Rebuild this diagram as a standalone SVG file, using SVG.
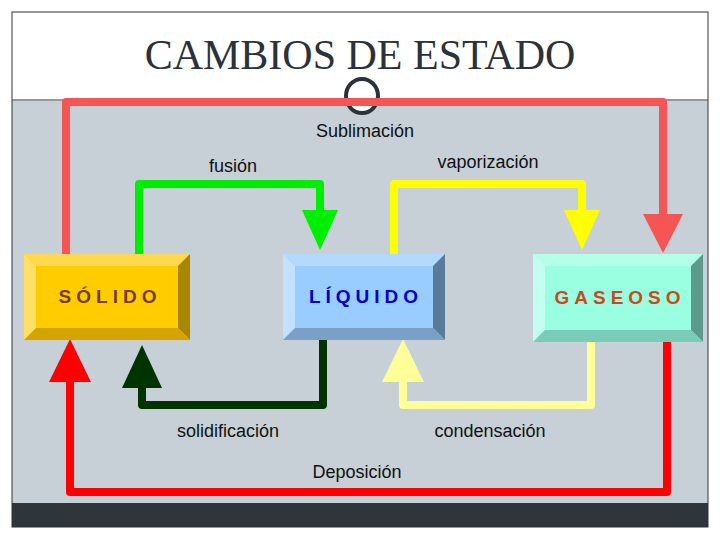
<svg xmlns="http://www.w3.org/2000/svg" width="720" height="540" viewBox="0 0 720 540">
<style>
.lbl{font-family:"Liberation Sans",Arial,sans-serif;font-size:18px;fill:#111;text-anchor:middle}
.node{font-family:"Liberation Sans",Arial,sans-serif;font-size:19px;font-weight:bold;letter-spacing:5px;text-anchor:middle}
.c{fill:none;stroke-width:8;stroke-linejoin:round}
</style>
<rect width="720" height="540" fill="#fff"/>
<rect x="12" y="101" width="696" height="402" fill="#c6d0d6"/>
<rect x="12" y="503" width="696" height="24" fill="#2e363c"/>
<rect x="12" y="12" width="696" height="515" fill="none" stroke="#333" stroke-width="1"/>
<line x1="12" y1="100" x2="708" y2="100" stroke="#333" stroke-width="1"/>
<text x="360" y="69" text-anchor="middle" font-family="'Liberation Serif',serif" font-size="42" fill="#2b3238">CAMBIOS DE ESTADO</text>
<ellipse cx="362" cy="96" rx="16" ry="17" fill="#fff" stroke="#2b3238" stroke-width="4"/>
<g id="connectors">
<path class="c" stroke="#f55555" d="M66 254V102H663V220"/>
<polygon fill="#f55555" points="643,214 683,214 663,253"/>
<path class="c" stroke="#00ee00" d="M139 254V184H320V215"/>
<polygon fill="#00ee00" points="302,210 338,210 320,250"/>
<path class="c" stroke="#ffff00" d="M394 254V184H582V215"/>
<polygon fill="#ffff00" points="564,210 600,210 582,250"/>
<path class="c" stroke="#003300" d="M323 340V405H142V380"/>
<polygon fill="#003300" points="122,388 162,388 142,345"/>
<path class="c" stroke="#ffff99" d="M591 342V405H403V378"/>
<polygon fill="#ffff99" points="382,382 424,382 403,339"/>
<path class="c" stroke="#ff0000" d="M667 342V492H70V376"/>
<polygon fill="#ff0000" points="49,382 91,382 70,339"/>
</g>
<g id="solido">
<rect x="24" y="254" width="166" height="86" fill="#ffcc00"/>
<polygon points="24,254 190,254 178,266 36,266" fill="#ffd94d"/>
<polygon points="24,254 36,266 36,328 24,340" fill="#ffe066"/>
<polygon points="190,254 190,340 178,328 178,266" fill="#a88600"/>
<polygon points="24,340 36,328 178,328 190,340" fill="#d4a500"/>
<text class="node" x="110" y="303" fill="#7a3a10">SÓLIDO</text>
</g>
<g id="liquido">
<rect x="283" y="254" width="162" height="86" fill="#99ccff"/>
<polygon points="283,254 445,254 433,266 295,266" fill="#b3d9ff"/>
<polygon points="283,254 295,266 295,328 283,340" fill="#c2e0ff"/>
<polygon points="445,254 445,340 433,328 433,266" fill="#5a7a9a"/>
<polygon points="283,340 295,328 433,328 445,340" fill="#7aa0c8"/>
<text class="node" x="366" y="303" fill="#0000cc">LÍQUIDO</text>
</g>
<g id="gaseoso">
<rect x="533" y="254" width="170" height="88" fill="#99ffe0"/>
<polygon points="533,254 703,254 691,266 545,266" fill="#b3ffe8"/>
<polygon points="533,254 545,266 545,330 533,342" fill="#c2fff0"/>
<polygon points="703,254 703,342 691,330 691,266" fill="#5c9a8c"/>
<polygon points="533,342 545,330 691,330 703,342" fill="#7accb8"/>
<text class="node" x="620" y="304" fill="#cc4a1a">GASEOSO</text>
</g>
<text class="lbl" x="365" y="137">Sublimación</text>
<text class="lbl" x="233" y="172">fusión</text>
<text class="lbl" x="488" y="168">vaporización</text>
<text class="lbl" x="228" y="437">solidificación</text>
<text class="lbl" x="490" y="437">condensación</text>
<text class="lbl" x="357" y="478">Deposición</text>
</svg>
